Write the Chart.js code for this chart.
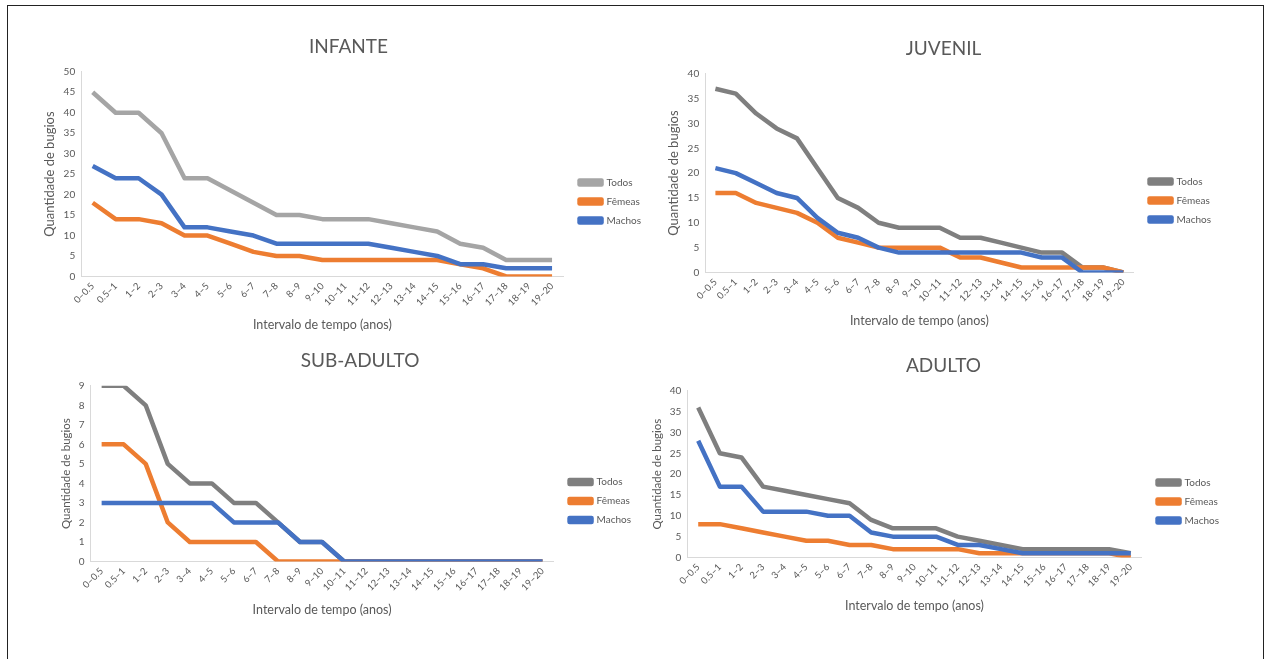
<!DOCTYPE html>
<html>
<head>
<meta charset="utf-8">
<script src="https://cdn.jsdelivr.net/npm/chart.js@4.4.1/dist/chart.umd.min.js"></script>
<style>
  html, body { margin: 0; padding: 0; background: #fff; }
  body { width: 1269px; height: 659px; position: relative; overflow: hidden; }
  #frame { position: absolute; left: 7px; top: 5px; width: 1257px; height: 660px; border: 1.5px solid #222; box-sizing: border-box; }
  .box { position: absolute; }
</style>
</head>
<body>
<div id="frame"></div>
<div class="box" style="left:38px; top:28px; width:613px; height:312px;"><canvas id="infante"></canvas></div>
<div class="box" style="left:662px; top:30px; width:559px; height:306px;"><canvas id="juvenil"></canvas></div>
<div class="box" style="left:55px; top:342px; width:586px; height:283px;"><canvas id="subadulto"></canvas></div>
<div class="box" style="left:646px; top:347px; width:583px; height:274px;"><canvas id="adulto"></canvas></div>
<script>
  const intervalos = ['0–0.5', '0.5–1', '1–2', '2–3', '3–4', '4–5', '5–6', '6–7', '7–8', '8–9', '9–10',
    '10–11', '11–12', '12–13', '13–14', '14–15', '15–16', '16–17', '17–18', '18–19', '19–20'];

  const infanteTodos = [45, 40, 40, 35, 24, 24, 21, 18, 15, 15, 14, 14, 14, 13, 12, 11, 8, 7, 4, 4, 4];
  const infanteFemeas = [18, 14, 14, 13, 10, 10, 8, 6, 5, 5, 4, 4, 4, 4, 4, 4, 3, 2, 0, 0, 0];
  const infanteMachos = [27, 24, 24, 20, 12, 12, 11, 10, 8, 8, 8, 8, 8, 7, 6, 5, 3, 3, 2, 2, 2];

  const juvenilTodos = [37, 36, 32, 29, 27, 21, 15, 13, 10, 9, 9, 9, 7, 7, 6, 5, 4, 4, 1, 1, 0];
  const juvenilFemeas = [16, 16, 14, 13, 12, 10, 7, 6, 5, 5, 5, 5, 3, 3, 2, 1, 1, 1, 1, 1, 0];
  const juvenilMachos = [21, 20, 18, 16, 15, 11, 8, 7, 5, 4, 4, 4, 4, 4, 4, 4, 3, 3, 0, 0, 0];

  const subTodos = [9, 9, 8, 5, 4, 4, 3, 3, 2, 1, 1, 0, 0, 0, 0, 0, 0, 0, 0, 0, 0];
  const subFemeas = [6, 6, 5, 2, 1, 1, 1, 1, 0, 0, 0, 0, 0, 0, 0, 0, 0, 0, 0, 0, 0];
  const subMachos = [3, 3, 3, 3, 3, 3, 2, 2, 2, 1, 1, 0, 0, 0, 0, 0, 0, 0, 0, 0, 0];

  const adultoTodos = [36, 25, 24, 17, 16, 15, 14, 13, 9, 7, 7, 7, 5, 4, 3, 2, 2, 2, 2, 2, 1];
  const adultoFemeas = [8, 8, 7, 6, 5, 4, 4, 3, 3, 2, 2, 2, 2, 1, 1, 1, 1, 1, 1, 1, 0];
  const adultoMachos = [28, 17, 17, 11, 11, 11, 10, 10, 6, 5, 5, 5, 3, 3, 2, 1, 1, 1, 1, 1, 1];

  const FONT = 'Lato, "Open Sans", sans-serif';
  const TXT = '#595959';

  // small layout tweaks: extra gap before the legend, title nudged sideways
  const ajuste = {
    id: 'ajuste',
    beforeLayout(chart, args, opts) {
      const lg = chart.legend;
      if (lg && !lg._gap) {
        const fit = lg.fit;
        lg.fit = function () { fit.call(this); this.width += opts.legenda; };
        lg._gap = true;
      }
    },
    afterLayout(chart, args, opts) {
      if (chart.legend) chart.legend.left += opts.legenda;
      if (chart.titleBlock) {
        chart.titleBlock.left += opts.titulo;
        chart.titleBlock.right += opts.titulo;
      }
    }
  };

  // order: Machos drawn on top, then Fêmeas, then Todos (like Excel)
  function serie(label, data, color, ordem) {
    return {
      label, data, order: ordem,
      borderColor: color, backgroundColor: color,
      borderWidth: 4.5, pointRadius: 0, tension: 0, borderJoinStyle: 'round'
    };
  }

  function grafico(id, titulo, todos, femeas, machos, yMax, passo, corTodos, tamTituloY, deslocTitulo) {
    new Chart(document.getElementById(id), {
      type: 'line',
      data: {
        labels: intervalos,
        datasets: [
          serie('Todos', todos, corTodos, 3),
          serie('Fêmeas', femeas, '#ED7D31', 2),
          serie('Machos', machos, '#4472C4', 1)
        ]
      },
      plugins: [ajuste],
      options: {
        responsive: true,
        maintainAspectRatio: false,
        animation: false,
        layout: { padding: { top: 4, right: 0, bottom: 4, left: 0 } },
        plugins: {
          ajuste: { legenda: 7, titulo: deslocTitulo },
          title: { display: true, text: titulo, color: TXT, font: { family: FONT, size: 19, weight: 'normal' }, padding: { top: 3, bottom: 14 } },
          legend: {
            position: 'right',
            title: { display: true, text: '', font: { size: 1 }, padding: { top: 34, bottom: 0 } },
            labels: {
              boxWidth: 22, boxHeight: 4, color: TXT, font: { family: FONT, size: 10 }, padding: 9,
              sort: (a, b) => a.datasetIndex - b.datasetIndex
            }
          },
          tooltip: { enabled: false }
        },
        scales: {
          x: {
            offset: true,
            grid: { display: false, drawTicks: false },
            border: { display: true, color: '#D9D9D9', width: 1 },
            ticks: { color: TXT, font: { family: FONT, size: 9.5 }, minRotation: 45, maxRotation: 45, autoSkip: false, padding: 4 },
            title: { display: true, text: 'Intervalo de tempo (anos)', color: TXT, font: { family: FONT, size: 12.5 }, padding: { top: 5 } }
          },
          y: {
            min: 0, max: yMax,
            grid: { display: false, drawTicks: false },
            border: { display: true, color: '#D9D9D9', width: 1 },
            ticks: { stepSize: passo, color: TXT, font: { family: FONT, size: 10 }, padding: 6 },
            title: { display: true, text: 'Quantidade de bugios', color: TXT, font: { family: FONT, size: tamTituloY }, padding: { bottom: 0 } }
          }
        }
      }
    });
  }

  grafico('infante', 'INFANTE', infanteTodos, infanteFemeas, infanteMachos, 50, 5, '#A5A5A5', 13, 4);
  grafico('juvenil', 'JUVENIL', juvenilTodos, juvenilFemeas, juvenilMachos, 40, 5, '#7F7F7F', 13, 2);
  grafico('subadulto', 'SUB-ADULTO', subTodos, subFemeas, subMachos, 9, 1, '#7F7F7F', 11.5, 12);
  grafico('adulto', 'ADULTO', adultoTodos, adultoFemeas, adultoMachos, 40, 5, '#7F7F7F', 11.5, 6);
</script>
</body>
</html>
